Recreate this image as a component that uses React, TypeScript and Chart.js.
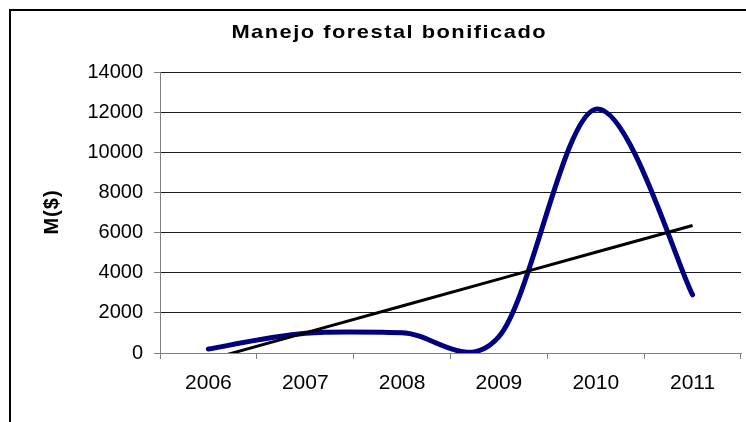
import React, { useEffect, useRef } from "react";
import { Chart, registerables } from "chart.js";

Chart.register(...registerables);

const chartTitle = "Manejo forestal bonificado";
const yAxisTitle = "M($)";
const years = ["2006", "2007", "2008", "2009", "2010", "2011"];
const amounts = [200, 980, 1010, 820, 12150, 2900];
const yTicks = [0, 2000, 4000, 6000, 8000, 10000, 12000, 14000];

// least-squares linear trend of the series (Excel "linear trendline")
function linearTrend(vals: number[]): number[] {
  const n = vals.length;
  const xs = vals.map((_, i) => i + 1);
  const mx = xs.reduce((a, b) => a + b, 0) / n;
  const my = vals.reduce((a, b) => a + b, 0) / n;
  let sxy = 0, sxx = 0;
  for (let i = 0; i < n; i++) {
    sxy += (xs[i] - mx) * (vals[i] - my);
    sxx += (xs[i] - mx) * (xs[i] - mx);
  }
  const slope = sxy / sxx;
  const icpt = my - slope * mx;
  return xs.map((x) => icpt + slope * x);
}

const FONT = "'Liberation Sans', Arial, sans-serif";

// Excel-like (Catmull-Rom) smoothing of the line's bezier control points
const excelSmooth = {
  id: "excelSmooth",
  beforeDatasetDraw(chart: any, args: any) {
    const ds = chart.data.datasets[args.index];
    if (!ds.excelSmooth) return;
    const meta = args.meta;
    const line = meta.dataset;
    line.updateControlPoints(chart.chartArea, "x");
    const pts = meta.data;
    const n = pts.length;
    for (let i = 0; i < n; i++) {
      const p = pts[i];
      const prev = pts[Math.max(0, i - 1)];
      const next = pts[Math.min(n - 1, i + 1)];
      const dx = (next.x - prev.x) / 6;
      const dy = (next.y - prev.y) / 6;
      p.cp1x = p.x - dx;
      p.cp1y = p.y - dy;
      p.cp2x = p.x + dx;
      p.cp2y = p.y + dy;
    }
    line._path = undefined;
  },
};

const spacedTitles = {
  id: "spacedTitles",
  afterDraw(chart: any) {
    const ctx = chart.ctx;
    // main title
    ctx.save();
    ctx.fillStyle = "#000";
    ctx.font = `bold 19px ${FONT}`;
    ctx.textBaseline = "alphabetic";
    ctx.textAlign = "left";
    (ctx as any).letterSpacing = "1.3px";
    let w = ctx.measureText(chartTitle).width - 1.3;
    ctx.translate(388.5, 38);
    ctx.scale(1.15, 1);
    ctx.fillText(chartTitle, -w / 2, 0);
    ctx.restore();
    // y axis title
    ctx.save();
    ctx.fillStyle = "#000";
    ctx.font = `bold 20px ${FONT}`;
    ctx.textBaseline = "middle";
    ctx.textAlign = "left";
    (ctx as any).letterSpacing = "1px";
    w = ctx.measureText(yAxisTitle).width - 1;
    const cy = (chart.chartArea.top + chart.chartArea.bottom) / 2;
    ctx.translate(52, cy);
    ctx.rotate(-Math.PI / 2);
    ctx.fillText(yAxisTitle, -w / 2, 0);
    ctx.restore();
  },
};

export default function App() {
  const ref = useRef<HTMLCanvasElement | null>(null);

  useEffect(() => {
    if (!ref.current) return;
    const chart = new Chart(ref.current, {
      type: "line",
      data: {
        labels: years,
        datasets: [
          {
            label: "Tendencia",
            data: linearTrend(amounts),
            borderColor: "#000000",
            borderWidth: 3,
            pointRadius: 0,
            tension: 0,
            order: 0,
          },
          {
            label: "Manejo forestal bonificado",
            data: amounts,
            borderColor: "#000080",
            borderWidth: 5,
            pointRadius: 0,
            tension: 0.4,
            capBezierPoints: false,
            borderCapStyle: "round",
            borderJoinStyle: "round",
            order: 1,
            excelSmooth: true,
          } as any,
        ],
      },
      options: {
        animation: false,
        responsive: false,
        devicePixelRatio: 1,
        layout: { padding: { top: 72, right: 5, bottom: 0, left: 0 } },
        plugins: {
          legend: { display: false },
          tooltip: { enabled: false },
          title: { display: false },
        },
        scales: {
          x: {
            offset: true,
            grid: {
              display: true,
              drawOnChartArea: false,
              drawTicks: true,
              offset: true,
              tickLength: 6,
              color: "#808080",
            },
            border: { display: true, color: "#808080", width: 1 },
            ticks: {
              color: "#000",
              font: { family: FONT, size: 21 },
              padding: 12,
              maxRotation: 0,
              autoSkip: false,
            },
            afterFit: (s: any) => {
              s.height = 69;
            },
          },
          y: {
            min: 0,
            max: 14000,
            afterBuildTicks: (s: any) => {
              s.ticks = yTicks.map((v) => ({ value: v }));
            },
            grid: {
              color: "#1a1a1a",
              lineWidth: 1,
              drawTicks: true,
              tickLength: 6,
              tickColor: "#808080",
            },
            border: { display: true, color: "#808080", width: 1 },
            ticks: {
              color: "#000",
              font: { family: FONT, size: 20 },
              padding: 11,
              callback: (v: any) => String(v),
            },
            afterFit: (s: any) => {
              s.width = 160;
            },
          },
        },
      },
      plugins: [excelSmooth, spacedTitles],
    });
    return () => chart.destroy();
  }, []);

  return (
    <div
      style={{
        position: "fixed",
        left: 0,
        top: 0,
        width: 746,
        height: 422,
        overflow: "hidden",
        background: "#fff",
      }}
    >
      <div
        style={{
          position: "absolute",
          left: 9,
          top: 9,
          width: 800,
          height: 500,
          border: "2px solid #000",
        }}
      />
      <canvas
        ref={ref}
        width={746}
        height={422}
        style={{ position: "absolute", left: 0, top: 0, width: 746, height: 422 }}
      />
    </div>
  );
}
